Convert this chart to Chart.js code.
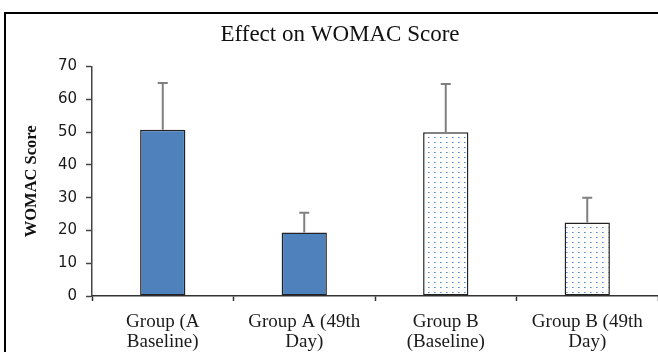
<!DOCTYPE html>
<html>
<head>
<meta charset="utf-8">
<script src="https://cdn.jsdelivr.net/npm/chart.js@4.4.0/dist/chart.umd.min.js"></script>
<style>
  body{margin:0;overflow:hidden;background:#fff}
  #wrap{position:relative;width:658px;height:352px}
  #myChart{position:absolute;left:0;top:0}
  #frame{position:absolute;left:4px;top:12px;width:2000px;height:2000px;border:2px solid #000;pointer-events:none}
</style>
</head>
<body>
<div id="wrap">
  <canvas id="myChart" width="658" height="352"></canvas>
  <div id="frame"></div>
</div>
<script>
// donnees
const categories = [['Group (A','Baseline)'], ['Group A (49th','Day)'], ['Group B','(Baseline)'], ['Group B (49th','Day)']]
const womacScore = [50.7, 19.4, 50.0, 22.4]
const womacSD = [14.3, 6.0, 14.7, 7.6]
const yTicks = [0, 10, 20, 30, 40, 50, 60, 70]

// motif pointille pour le groupe B
function dotPattern(){
    const c = document.createElement('canvas')
    c.width = 6
    c.height = 5
    const p = c.getContext('2d')
    p.fillStyle = '#fff'
    p.fillRect(0, 0, 6, 5)
    p.fillStyle = '#9ab8e4'
    p.fillRect(2, 2, 2, 1)
    p.fillStyle = '#5a88cc'
    p.fillRect(2, 2, 1, 1)
    return p.createPattern(c, 'repeat')
}
const dots = dotPattern()

// barres d'erreur (seulement vers le haut)
const errorBars = {
    id: 'errorBars',
    afterDatasetsDraw(chart){
        const ctx = chart.ctx
        const y = chart.scales.y
        const meta = chart.getDatasetMeta(0)
        ctx.save()
        ctx.strokeStyle = '#808080'
        ctx.lineWidth = 2
        meta.data.forEach((bar, i) => {
            const top = y.getPixelForValue(womacScore[i] + womacSD[i])
            ctx.beginPath()
            ctx.moveTo(bar.x, bar.y)
            ctx.lineTo(bar.x, top)
            ctx.moveTo(bar.x - 5, top)
            ctx.lineTo(bar.x + 5, top)
            ctx.stroke()
        })
        ctx.restore()
    }
}

const ctx = document.getElementById('myChart')
new Chart(ctx, {
    type: 'bar',
    data: {
        labels: categories,
        datasets: [{
            label: 'WOMAC Score',
            data: womacScore,
            backgroundColor: ['#4f81bd', '#4f81bd', dots, dots],
            borderColor: '#222',
            borderWidth: 1.5,
            borderSkipped: false,
            categoryPercentage: 1,
            barPercentage: 0.32
        }]
    },
    options: {
        responsive: false,
        animation: false,
        devicePixelRatio: 1,
        layout: {padding: {left: 22, right: 0, top: 0, bottom: 0}},
        plugins: {
            legend: {display: false},
            tooltip: {enabled: false},
            title: {
                display: true,
                text: 'Effect on WOMAC Score',
                color: '#111',
                font: {family: 'Liberation Serif', size: 23, weight: 'normal'},
                padding: {top: 21, bottom: 18}
            }
        },
        scales: {
            x: {
                afterFit(scale){ scale.height = 56 },
                grid: {drawOnChartArea: false, offset: true, tickLength: 5, color: '#333', tickWidth: 1.5},
                border: {display: true, color: '#333', width: 1.5},
                ticks: {
                    color: '#1a1a1a',
                    padding: 11,
                    maxRotation: 0,
                    font: {family: 'Liberation Serif', size: 19, lineHeight: '20px'}
                }
            },
            y: {
                min: 0,
                max: 70,
                afterFit(scale){ scale.width = 70 },
                afterBuildTicks(scale){ scale.ticks = yTicks.map(v => ({value: v})) },
                grid: {drawOnChartArea: false, tickLength: 6, color: '#444', tickWidth: 1.5},
                border: {display: true, color: '#444', width: 1.5},
                ticks: {
                    color: '#1a1a1a',
                    padding: 9,
                    font: {family: 'DejaVu Sans', size: 15}
                },
                title: {
                    display: true,
                    text: 'WOMAC Score',
                    color: '#111',
                    font: {family: 'Liberation Serif', size: 16.5, weight: 'bold'},
                    padding: {top: 0, bottom: 0}
                }
            }
        }
    },
    plugins: [errorBars]
})
</script>
</body>
</html>
